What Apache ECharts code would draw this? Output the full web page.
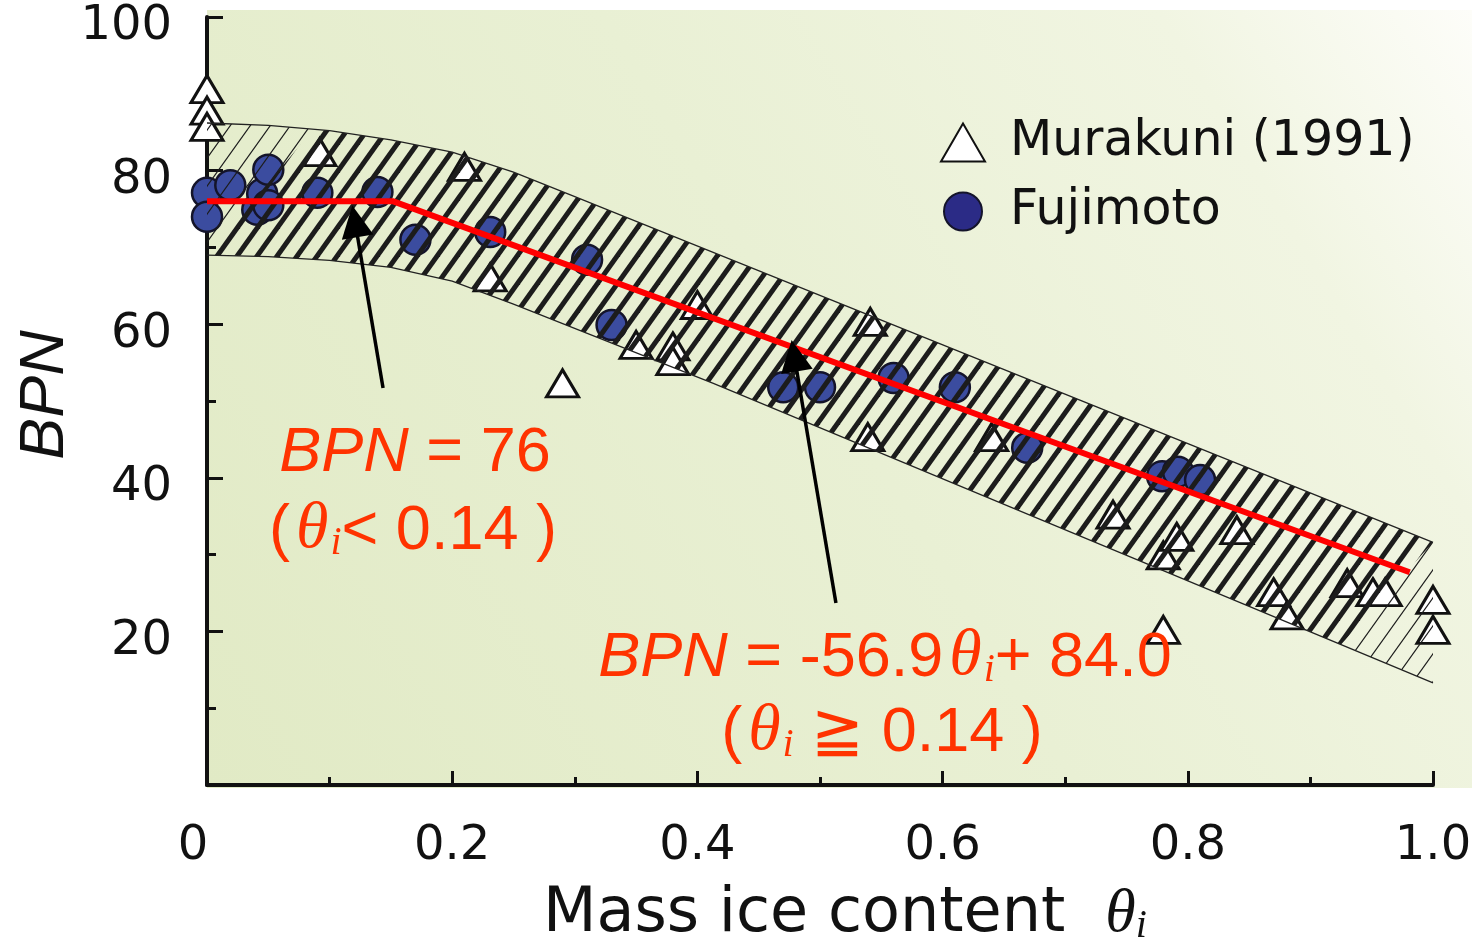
<!DOCTYPE html>
<html>
<head>
<meta charset="utf-8">
<title>BPN vs mass ice content</title>
<script src="https://cdn.jsdelivr.net/npm/echarts@6/dist/echarts.min.js"></script>
<style>
  html, body { margin: 0; padding: 0; background: #fff; }
  #chart { width: 1480px; height: 943px; }
</style>
</head>
<body>
<div id="chart"></div>
<script>
// points, [theta_i, BPN]
const murakuni = [
  [0.0, 90.6], [0.0, 87.8], [0.0, 85.7], [0.092, 82.4], [0.21, 80.5], [0.231, 66.1],
  [0.29, 52.3], [0.35, 57.3], [0.38, 57.1], [0.38, 55.2], [0.40, 62.5], [0.541, 60.3],
  [0.539, 45.3], [0.64, 45.3], [0.739, 35.2], [0.78, 20.2], [0.78, 29.9], [0.791, 32.3],
  [0.84, 33.2], [0.87, 25.1], [0.881, 22.1], [0.93, 26.3], [0.951, 25.1], [0.961, 25.1],
  [1.0, 24.1], [1.0, 20.2]
];
const fujimoto = [
  [0.0, 77.1], [0.0, 74.0], [0.019, 78.1], [0.041, 74.9], [0.045, 77.0], [0.05, 75.5],
  [0.05, 80.1], [0.09, 77.1], [0.139, 77.2], [0.17, 71.0], [0.231, 72.0], [0.31, 68.4],
  [0.33, 59.9], [0.47, 51.8], [0.50, 51.8], [0.56, 53.0], [0.61, 51.8], [0.669, 43.9],
  [0.779, 40.2], [0.792, 40.8], [0.81, 39.7]
];
// fitted relation: 76 below 0.14, then -56.9*theta + 84.0
const fitLine = [[0, 76], [0.152, 76], [0.981, 27.7]];
// scatter band edges
const bandUpper = [[0, 86.2], [0.05, 85.9], [0.1, 85.2], [0.15, 84.0], [0.2, 82.4], [0.25, 79.8], [0.3, 76.6], [1.0, 31.6]];
const bandLower = [[0, 69.0], [0.05, 68.8], [0.1, 68.3], [0.15, 67.4], [0.2, 65.6], [0.25, 62.6], [0.413, 52.3], [1.0, 13.3]];
// ends of the heavy hatching
const denseLeft = [[0, 69.0], [0.087, 85.4]];
const denseRight = [[1.0, 31.6], [0.925, 18.3]];
// arrows: tail -> head
const arrows = [
  [[0.1436, 51.7], [0.1207, 73.4]],
  [[0.513, 23.7], [0.479, 55.9]]
];
const xTickLabels = ['0', '0.2', '0.4', '0.6', '0.8', '1.0'];
const yTickLabels = ['', '20', '40', '60', '80', '100'];

const red = '#ff3300';
const ink = '#111';

function hatch(lw) {
  const w = 20, h = 28;
  const c = document.createElement('canvas');
  c.width = w; c.height = h;
  const ctx = c.getContext('2d');
  ctx.strokeStyle = '#1c1c1c';
  ctx.lineWidth = lw;
  for (let k = -1; k <= 1; k++) {
    ctx.beginPath();
    ctx.moveTo(k * w - w, 2 * h);
    ctx.lineTo(k * w + 2 * w, -h);
    ctx.stroke();
  }
  return c;
}
const thinHatch = hatch(1.2);
const thickHatch = hatch(5);

function renderBand(params, api) {
  if (params.dataIndex > 0) return;
  const pt = p => api.coord(p);
  const full = bandUpper.concat(bandLower.slice().reverse()).map(pt);
  const dense = denseLeft
    .concat(bandUpper.filter(p => p[0] > 0.087 && p[0] < 1))
    .concat(denseRight)
    .concat(bandLower.filter(p => p[0] > 0 && p[0] < 0.925).reverse())
    .map(pt);
  return {
    type: 'group',
    children: [
      { type: 'polygon', shape: { points: full }, style: { fill: { image: thinHatch, repeat: 'repeat' } } },
      { type: 'polygon', shape: { points: dense }, style: { fill: { image: thickHatch, repeat: 'repeat' } } },
      { type: 'polyline', shape: { points: bandUpper.map(pt) }, style: { fill: null, stroke: '#222', lineWidth: 1.3 } },
      { type: 'polyline', shape: { points: bandLower.map(pt) }, style: { fill: null, stroke: '#222', lineWidth: 1.3 } }
    ]
  };
}

const annRich = {
  n: { fontFamily: 'Liberation Sans', fontSize: 63, fill: red, lineHeight: 70, verticalAlign: 'bottom' },
  it: { fontFamily: 'Liberation Sans', fontStyle: 'italic', fontSize: 63, fill: red, lineHeight: 70, verticalAlign: 'bottom' },
  th: { fontFamily: 'Liberation Serif', fontStyle: 'italic', fontSize: 66, fill: red, lineHeight: 70, verticalAlign: 'bottom', padding: [0, 2, 0, 6] },
  sub: { fontFamily: 'Liberation Serif', fontStyle: 'italic', fontSize: 40, fill: red, lineHeight: 28, verticalAlign: 'bottom' }
};
function note(text, x, y) {
  return {
    type: 'text', x: x, y: y, z: 100,
    style: { text: text, rich: annRich, align: 'center', textAlign: 'center', verticalAlign: 'middle', textVerticalAlign: 'middle' }
  };
}

const chart = echarts.init(document.getElementById('chart'));
chart.setOption({
  animation: false,
  grid: { left: 207, right: 47, top: 17, bottom: 158 },
  legend: {
    orient: 'vertical', left: 935, top: 113, selectedMode: false,
    itemWidth: 44, itemHeight: 38, itemGap: 20,
    data: [{ name: 'Murakuni (1991)' }, { name: 'Fujimoto', itemStyle: { color: '#2b2b86' } }],
    textStyle: { fontFamily: 'DejaVu Sans', fontSize: 49, color: ink, lineHeight: 48, padding: [0, 0, 0, 20] }
  },
  xAxis: {
    type: 'value', min: 0, max: 1, interval: 0.2,
    axisLine: { show: true, onZero: false, lineStyle: { color: ink, width: 4 } },
    axisTick: { show: true, inside: true, length: 14, lineStyle: { color: ink, width: 3 } },
    minorTick: { show: true, splitNumber: 2, length: 8, lineStyle: { color: ink, width: 3 } },
    splitLine: { show: false },
    axisLabel: {
      margin: 38, fontFamily: 'DejaVu Sans', fontSize: 48, color: ink,
      formatter: v => {
        const s = xTickLabels[Math.round(v / 0.2)];
        return v === 0 ? '{z|' + s + '}' : s;
      },
      rich: { z: { fontFamily: 'DejaVu Sans', fontSize: 48, color: ink, padding: [0, 28, 0, 0] } }
    }
  },
  yAxis: {
    type: 'value', min: 0, max: 100, interval: 20,
    axisLine: { show: true, onZero: false, lineStyle: { color: ink, width: 4 } },
    axisTick: { show: true, inside: true, length: 16, lineStyle: { color: ink, width: 3 } },
    minorTick: { show: true, splitNumber: 2, length: 9, lineStyle: { color: ink, width: 3 } },
    splitLine: { show: false },
    axisLabel: {
      margin: 35, fontFamily: 'DejaVu Sans', fontSize: 48, color: ink,
      verticalAlign: 'top', lineHeight: 20,
      formatter: v => yTickLabels[Math.round(v / 20)]
    }
  },
  graphic: [
    {
      type: 'rect', z: -10, silent: true,
      shape: { x: 207, y: 10, width: 1265, height: 778 },
      style: {
        fill: {
          type: 'linear', x: 0, y: 1, x2: 1, y2: 0,
          colorStops: [
            { offset: 0, color: '#e1eac5' },
            { offset: 0.5, color: '#e9f0d4' },
            { offset: 0.82, color: '#f1f5e2' },
            { offset: 1, color: '#fdfdf9' }
          ]
        }
      }
    },
    {
      type: 'text', x: 45, y: 395, rotation: Math.PI / 2, z: 100,
      style: {
        text: 'BPN', fill: ink, font: 'italic 63px "Liberation Sans"',
        align: 'center', textAlign: 'center', verticalAlign: 'middle', textVerticalAlign: 'middle'
      }
    },
    {
      type: 'text', x: 543, y: 911, z: 100,
      style: {
        text: '{n|Mass ice content}{g|}{th|θ}{sub|i}',
        align: 'left', textAlign: 'left', verticalAlign: 'middle', textVerticalAlign: 'middle',
        rich: {
          n: { fontFamily: 'DejaVu Sans', fontSize: 62, fill: ink, lineHeight: 70, verticalAlign: 'bottom' },
          g: { width: 40, lineHeight: 70, verticalAlign: 'bottom' },
          th: { fontFamily: 'Liberation Serif', fontStyle: 'italic', fontSize: 62, fill: ink, lineHeight: 70, verticalAlign: 'bottom' },
          sub: { fontFamily: 'Liberation Serif', fontStyle: 'italic', fontSize: 40, fill: ink, lineHeight: 28, verticalAlign: 'bottom' }
        }
      }
    },
    note('{it|BPN}{n| = 76}', 415, 450),
    note('{n|(}{th|θ}{sub|i}{n|< 0.14 )}', 413, 528),
    note('{it|BPN}{n| = -56.9}{th|θ}{sub|i}{n|+ 84.0}', 885, 655),
    note('{n|(}{th|θ}{sub|i}{n| ≧ 0.14 )}', 882, 730)
  ],
  series: [
    {
      name: 'Murakuni (1991)', type: 'scatter', z: 2,
      symbol: 'triangle', symbolSize: [32, 27],
      itemStyle: { color: '#ffffff', borderColor: ink, borderWidth: 3, opacity: 1 },
      data: murakuni
    },
    {
      name: 'Fujimoto', type: 'scatter', z: 2,
      symbol: 'circle', symbolSize: 30,
      itemStyle: { color: '#3b4c9f', borderColor: '#14142a', borderWidth: 2.5, opacity: 1 },
      data: fujimoto
    },
    {
      name: 'band', type: 'custom', z: 3, silent: true,
      renderItem: renderBand,
      data: [[0, 0]]
    },
    {
      name: 'fit', type: 'line', z: 5, silent: true,
      showSymbol: false, symbol: 'none',
      lineStyle: { color: '#ff0000', width: 6 },
      data: fitLine
    },
    {
      name: 'arrows', type: 'lines', coordinateSystem: 'cartesian2d', z: 6, silent: true,
      symbol: ['none', 'triangle'], symbolSize: 32,
      lineStyle: { color: '#000', width: 3.5, opacity: 1 },
      data: arrows.map(a => ({ coords: a }))
    }
  ]
});
</script>
</body>
</html>
